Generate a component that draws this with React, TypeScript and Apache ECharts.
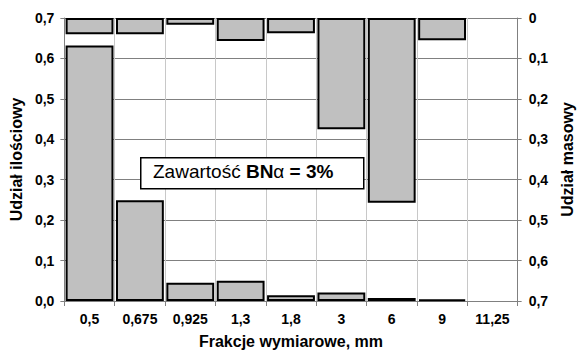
import React, { useEffect, useRef } from "react";
import * as echarts from "echarts";

const categories = ["0,5", "0,675", "0,925", "1,3", "1,8", "3", "6", "9", "11,25"];
const udzialIlosciowy = [0.632, 0.249, 0.045, 0.05, 0.014, 0.021, 0.0075, 0.004, 0];
const udzialMasowy = [0.04, 0.04, 0.0165, 0.057, 0.038, 0.275, 0.457, 0.055, 0];

const FONT = "'Liberation Sans', Arial, sans-serif";

export default function App() {
  const ref = useRef<HTMLDivElement>(null);
  useEffect(() => {
    document.body.style.margin = "0";
    if (!ref.current) return;
    const chart = echarts.init(ref.current, null, { renderer: "svg" });
    const fmt = (v: number) => v.toFixed(1).replace(".", ",");
    const noZero = (arr: number[]) => arr.map((v) => (v === 0 ? "-" : v));
    chart.setOption({
      animation: false,
      backgroundColor: "#ffffff",
      textStyle: { fontFamily: FONT },
      grid: { left: 64, right: 56, top: 18, bottom: 52, containLabel: false },
      xAxis: {
        type: "category",
        data: categories,
        boundaryGap: true,
        name: "Frakcje wymiarowe, mm",
        nameLocation: "middle",
        nameGap: 32,
        nameTextStyle: { fontFamily: FONT, fontWeight: "bold", fontSize: 16, color: "#000" },
        axisLine: { lineStyle: { color: "#808080", width: 1 } },
        axisTick: { show: true, length: 5, lineStyle: { color: "#808080" } },
        axisLabel: { color: "#000", fontFamily: FONT, fontWeight: "bold", fontSize: 14, margin: 11 },
        splitLine: { show: true, lineStyle: { color: "#c8c8c8", width: 1 } },
      },
      yAxis: [
        {
          type: "value",
          min: 0,
          max: 0.7,
          interval: 0.1,
          name: "Udział ilościowy",
          nameLocation: "middle",
          nameRotate: 90,
          nameGap: 36,
          nameTextStyle: { fontFamily: FONT, fontWeight: "bold", fontSize: 16, color: "#000" },
          axisLine: { show: true, lineStyle: { color: "#808080" } },
          axisTick: { show: true, length: 4, lineStyle: { color: "#808080" } },
          axisLabel: { color: "#000", fontFamily: FONT, fontWeight: "bold", fontSize: 14, margin: 10, formatter: fmt },
          splitLine: { show: true, lineStyle: { color: "#808080", width: 1 } },
        },
        {
          type: "value",
          min: 0,
          max: 0.7,
          interval: 0.1,
          inverse: true,
          position: "right",
          name: "Udział masowy",
          nameLocation: "middle",
          nameRotate: 90,
          nameGap: 36,
          nameTextStyle: { fontFamily: FONT, fontWeight: "bold", fontSize: 16, color: "#000" },
          axisLine: { show: true, lineStyle: { color: "#808080" } },
          axisTick: { show: true, length: 4, lineStyle: { color: "#808080" } },
          axisLabel: {
            color: "#000",
            fontFamily: FONT,
            fontWeight: "bold",
            fontSize: 14,
            margin: 11,
            formatter: (v: number) => (v === 0 ? "0" : fmt(v)),
          },
          splitLine: { show: false },
        },
      ],
      series: [
        {
          name: "Udział ilościowy",
          type: "bar",
          yAxisIndex: 0,
          data: noZero(udzialIlosciowy),
          barCategoryGap: "5%",
          barGap: "-100%",
          itemStyle: { color: "#c0c0c0", borderColor: "#000", borderWidth: 2 },
        },
        {
          name: "Udział masowy",
          type: "bar",
          yAxisIndex: 1,
          data: noZero(udzialMasowy),
          barCategoryGap: "5%",
          barGap: "-100%",
          itemStyle: { color: "#c0c0c0", borderColor: "#000", borderWidth: 2 },
        },
      ],
      graphic: [
        {
          type: "rect",
          left: 140,
          top: 157,
          shape: { width: 223, height: 31 },
          style: { fill: "#fff", stroke: "#000", lineWidth: 1.5 },
          z: 100,
        },
        {
          type: "text",
          left: 153,
          top: 162,
          z: 101,
          style: {
            text: "{r|Zawartość }{b|BN}{r|α}{b| = 3%}",
            rich: {
              r: { fontFamily: FONT, fontSize: 19, fill: "#000", fontWeight: "normal" },
              b: { fontFamily: FONT, fontSize: 19, fill: "#000", fontWeight: "bold" },
            },
          },
        },
      ],
    });
    return () => chart.dispose();
  }, []);
  return <div ref={ref} style={{ width: 583, height: 354 }} />;
}
